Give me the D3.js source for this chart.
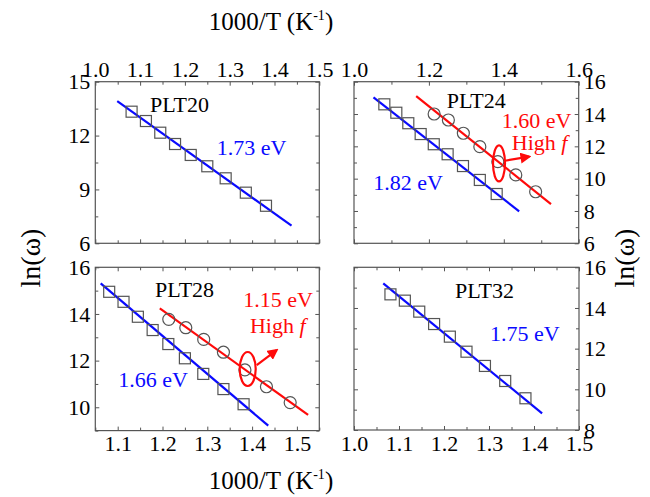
<!DOCTYPE html>
<html>
<head>
<meta charset="utf-8">
<script src="https://cdn.jsdelivr.net/npm/d3@7"></script>
<style>
  body { margin: 0; background: #fff; }
  text { font-family: "Liberation Serif", "Times New Roman", serif; }
</style>
</head>
<body>
<div id="chart"></div>
<script>
// 1000/T values of the measured points
const tSquare = [1.081, 1.113, 1.145, 1.178, 1.213, 1.250, 1.291, 1.336, 1.381];
const tCircle = [1.214, 1.252, 1.292, 1.336, 1.384, 1.432, 1.485];

// ln(omega) values
const plt20Low = [13.33, 12.81, 12.16, 11.53, 10.92, 10.29, 9.62, 8.82, 8.09];
const plt24Low = [14.60, 14.08, 13.43, 12.76, 12.13, 11.51, 10.78, 9.92, 9.05];
const plt24High = [14.00, 13.63, 12.81, 11.98, 11.05, 10.23, 9.19];
const plt28Low = [14.95, 14.52, 13.88, 13.31, 12.71, 12.10, 11.43, 10.78, 10.13];
const plt28High = [13.77, 13.41, 12.91, 12.36, 11.60, 10.88, 10.20];
const plt32Low = [14.67, 14.36, 13.82, 13.21, 12.59, 11.85, 11.15, 10.41, 9.56];

// Arrhenius fit lines (end points)
const fit20 = [[1.049, 13.92], [1.438, 6.98]];
const fit24Low = [[1.052, 15.03], [1.441, 7.98]];
const fit24High = [[1.166, 15.11], [1.526, 8.43]];
const fit28Low = [[1.062, 15.31], [1.436, 9.21]];
const fit28High = [[1.194, 14.24], [1.525, 9.67]];
const fit32 = [[1.065, 15.21], [1.418, 8.82]];

// tick labels
const xTicksTL = [1.0, 1.1, 1.2, 1.3, 1.4, 1.5];
const xTicksTR = [1.0, 1.2, 1.4, 1.6];
const xTicksBL = [1.1, 1.2, 1.3, 1.4, 1.5];
const xTicksBR = [1.0, 1.1, 1.2, 1.3, 1.4, 1.5];
const yTicksTL = [6, 9, 12, 15];
const yTicksTR = [6, 8, 10, 12, 14, 16];
const yTicksBL = [10, 12, 14, 16];
const yTicksBR = [8, 10, 12, 14, 16];

const width = 650, height = 497;
const blue = "#0a0aff", red = "#ff0a0a", frameColor = "#555";

const svg = d3.select("#chart").append("svg")
    .attr("width", width)
    .attr("height", height);

svg.append("defs").append("marker")
    .attr("id", "arrow")
    .attr("viewBox", "0 0 10 10")
    .attr("refX", 8).attr("refY", 5)
    .attr("markerWidth", 5).attr("markerHeight", 5)
    .attr("orient", "auto")
    .append("path")
    .attr("d", "M0,0 L10,5 L0,10 Z")
    .attr("fill", red);

const panels = [
    {
        box: [95.3, 81.7, 319.3, 243.3], xd: [1.0, 1.5], yd: [6, 15],
        xTicks: xTicksTL, yTicks: yTicksTL, xMinor: 0.05, yMinor: 1.5,
        xLabelSide: "top", yLabelSide: "left",
        series: [{ x: tSquare, y: plt20Low, shape: "square" }],
        fits: [{ pts: fit20, color: blue }],
        texts: [
            { t: "PLT20", x: 1.122, y: 13.33, color: "#000" },
            { t: "1.73 eV", x: 1.271, y: 10.92, color: blue }
        ]
    },
    {
        box: [354, 81.7, 578.7, 243.3], xd: [1.0, 1.6], yd: [6, 16],
        xTicks: xTicksTR, yTicks: yTicksTR, xMinor: 0.1, yMinor: 1,
        xLabelSide: "top", yLabelSide: "right",
        series: [
            { x: tSquare, y: plt24Low, shape: "square" },
            { x: tCircle, y: plt24High, shape: "circle" }
        ],
        fits: [{ pts: fit24Low, color: blue }, { pts: fit24High, color: red }],
        texts: [
            { t: "PLT24", x: 1.2475, y: 14.35, color: "#000" },
            { t: "1.60 eV", x: 1.3948, y: 13.12, color: red },
            { t: "High ", italic: "f", x: 1.4215, y: 11.77, color: red },
            { t: "1.82 eV", x: 1.0515, y: 9.30, color: blue }
        ],
        ellipse: { x: 1.3872, y: 10.95, rx: 6, ry: 18 },
        arrow: [[1.4032, 11.11], [1.4681, 11.36]]
    },
    {
        box: [95.3, 267.3, 319.3, 430.6], xd: [1.05, 1.55], yd: [9, 16],
        xTicks: xTicksBL, yTicks: yTicksBL, xMinor: 0.05, yMinor: 1,
        xLabelSide: "bottom", yLabelSide: "left",
        series: [
            { x: tSquare, y: plt28Low, shape: "square" },
            { x: tCircle, y: plt28High, shape: "circle" }
        ],
        fits: [{ pts: fit28Low, color: blue }, { pts: fit28High, color: red }],
        texts: [
            { t: "PLT28", x: 1.1833, y: 14.74, color: "#000" },
            { t: "1.15 eV", x: 1.3804, y: 14.31, color: red },
            { t: "High ", italic: "f", x: 1.3953, y: 13.17, color: red },
            { t: "1.66 eV", x: 1.1013, y: 10.86, color: blue }
        ],
        ellipse: { x: 1.3902, y: 11.64, rx: 8, ry: 17 },
        arrow: [[1.4103, 11.81], [1.4549, 12.45]]
    },
    {
        box: [354, 267.3, 579, 430], xd: [1.0, 1.5], yd: [8, 16],
        xTicks: xTicksBR, yTicks: yTicksBR, xMinor: 0.05, yMinor: 1,
        xLabelSide: "bottom", yLabelSide: "right",
        series: [{ x: tSquare, y: plt32Low, shape: "square" }],
        fits: [{ pts: fit32, color: blue }],
        texts: [
            { t: "PLT32", x: 1.2244, y: 14.47, color: "#000" },
            { t: "1.75 eV", x: 1.3022, y: 12.39, color: blue }
        ]
    }
];

function minorTicks(domain, step) {
    return d3.range(Math.ceil(domain[0] / step - 1e-6), Math.floor(domain[1] / step + 1e-6) + 1)
        .map(i => +(i * step).toFixed(4));
}

panels.forEach(p => {
    const [x0, y0, x1, y1] = p.box;
    const x = d3.scaleLinear().domain(p.xd).range([x0, x1]);
    const y = d3.scaleLinear().domain(p.yd).range([y1, y0]);
    const g = svg.append("g");

    const xAll = minorTicks(p.xd, p.xMinor);
    const yAll = minorTicks(p.yd, p.yMinor);
    const isMajor = (list, v) => list.some(t => Math.abs(t - v) < 1e-6);

    // axes on all four sides, ticks pointing inward
    const sides = [
        { axis: d3.axisTop(x), pos: `translate(0,${y0})`, vals: xAll, major: p.xTicks, label: p.xLabelSide === "top", fmt: d3.format(".1f") },
        { axis: d3.axisBottom(x), pos: `translate(0,${y1})`, vals: xAll, major: p.xTicks, label: p.xLabelSide === "bottom", fmt: d3.format(".1f") },
        { axis: d3.axisLeft(y), pos: `translate(${x0},0)`, vals: yAll, major: p.yTicks, label: p.yLabelSide === "left", fmt: d3.format("d") },
        { axis: d3.axisRight(y), pos: `translate(${x1},0)`, vals: yAll, major: p.yTicks, label: p.yLabelSide === "right", fmt: d3.format("d") }
    ];
    sides.forEach(s => {
        const ag = g.append("g")
            .attr("transform", s.pos)
            .call(s.axis.tickValues(s.vals).tickSize(-4).tickPadding(5)
                .tickFormat(v => (s.label && isMajor(s.major, v)) ? s.fmt(v) : ""));
        ag.select(".domain").remove();
        ag.selectAll(".tick line")
            .attr("stroke", frameColor)
            .each(function (v) {
                if (!isMajor(s.major, v)) {
                    const l = d3.select(this);
                    if (l.attr("x2") !== null && +l.attr("x2") !== 0) l.attr("x2", +l.attr("x2") * 0.75);
                    if (l.attr("y2") !== null && +l.attr("y2") !== 0) l.attr("y2", +l.attr("y2") * 0.75);
                }
            });
        ag.selectAll(".tick text")
            .attr("font-size", 22)
            .attr("fill", "#000")
            .style("font-family", '"Liberation Serif", serif');
    });

    g.append("rect")
        .attr("x", x0).attr("y", y0)
        .attr("width", x1 - x0).attr("height", y1 - y0)
        .attr("fill", "none")
        .attr("stroke", frameColor)
        .attr("stroke-width", 1.2);

    // fit lines
    const line = d3.line().x(d => x(d[0])).y(d => y(d[1]));
    p.fits.forEach(f => {
        g.append("path")
            .attr("d", line(f.pts))
            .attr("fill", "none")
            .attr("stroke", f.color)
            .attr("stroke-width", 2.2);
    });

    // data markers
    p.series.forEach(s => {
        const pts = s.x.map((v, i) => [v, s.y[i]]);
        if (s.shape === "square") {
            g.selectAll(null).data(pts).enter().append("rect")
                .attr("x", d => x(d[0]) - 5.5)
                .attr("y", d => y(d[1]) - 5.5)
                .attr("width", 11).attr("height", 11)
                .attr("fill", "none")
                .attr("stroke", "#555")
                .attr("stroke-width", 1.2);
        } else {
            g.selectAll(null).data(pts).enter().append("circle")
                .attr("cx", d => x(d[0]))
                .attr("cy", d => y(d[1]))
                .attr("r", 6)
                .attr("fill", "none")
                .attr("stroke", "#555")
                .attr("stroke-width", 1.2);
        }
    });

    if (p.ellipse) {
        g.append("ellipse")
            .attr("cx", x(p.ellipse.x)).attr("cy", y(p.ellipse.y))
            .attr("rx", p.ellipse.rx).attr("ry", p.ellipse.ry)
            .attr("fill", "none")
            .attr("stroke", red)
            .attr("stroke-width", 2.2);
    }
    if (p.arrow) {
        g.append("path")
            .attr("d", line(p.arrow))
            .attr("stroke", red)
            .attr("stroke-width", 2.2)
            .attr("fill", "none")
            .attr("marker-end", "url(#arrow)");
    }

    p.texts.forEach(t => {
        const txt = g.append("text")
            .attr("x", x(t.x)).attr("y", y(t.y))
            .attr("font-size", 22)
            .attr("fill", t.color)
            .text(t.t);
        if (t.italic) {
            txt.append("tspan").attr("font-style", "italic").text(t.italic);
        }
    });
});

// axis titles
function kTitle(cx, by) {
    const t = svg.append("text")
        .attr("x", cx).attr("y", by)
        .attr("text-anchor", "middle")
        .attr("font-size", 25)
        .attr("fill", "#000");
    t.append("tspan").text("1000/T (K");
    t.append("tspan").attr("font-size", 14).attr("dy", -10).text("-1");
    t.append("tspan").attr("dy", 10).text(")");
}
kTitle(271, 30);
kTitle(271, 489);

[[30, 258], [624, 258]].forEach(([cx, cy]) => {
    svg.append("text")
        .attr("transform", `translate(${cx},${cy}) rotate(-90)`)
        .attr("text-anchor", "middle")
        .attr("dy", "0.35em")
        .attr("font-size", 28)
        .attr("fill", "#000")
        .text("ln(ω)");
});
</script>
</body>
</html>
